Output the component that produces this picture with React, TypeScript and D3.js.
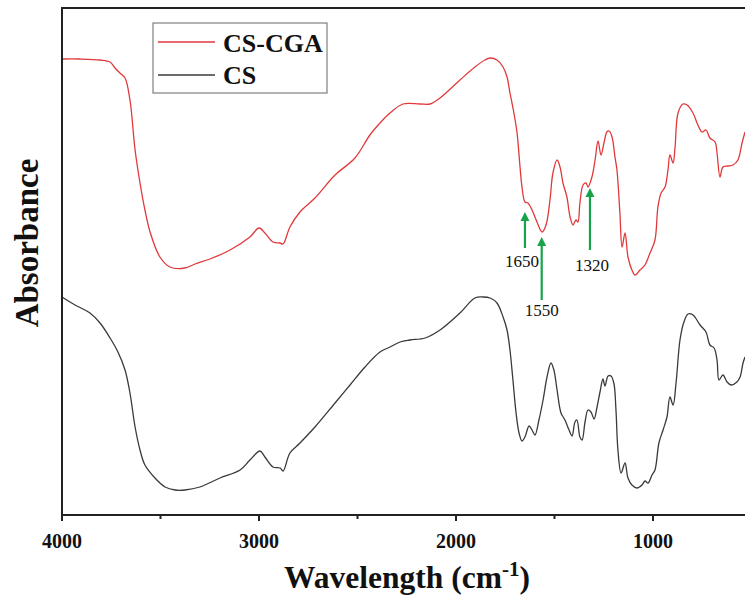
import React from "react";
import * as d3 from "d3";

// Wavenumber (cm^-1) and absorbance (a.u.)
const csCgaWave = [4000, 3909, 3807, 3756, 3731, 3706, 3680, 3655, 3629, 3604, 3579, 3553, 3503, 3452, 3376, 3325, 3249, 3147, 3046, 3000, 2970, 2929, 2893, 2878, 2843, 2792, 2716, 2614, 2513, 2437, 2386, 2335, 2269, 2183, 2132, 2081, 1980, 1904, 1853, 1827, 1792, 1761, 1741, 1726, 1706, 1690, 1675, 1665, 1650, 1635, 1614, 1589, 1563, 1543, 1523, 1508, 1487, 1472, 1457, 1437, 1421, 1406, 1391, 1381, 1371, 1355, 1340, 1330, 1310, 1294, 1279, 1264, 1249, 1234, 1223, 1208, 1193, 1183, 1168, 1157, 1142, 1127, 1107, 1091, 1066, 1041, 1015, 990, 975, 959, 939, 924, 914, 898, 888, 873, 848, 827, 797, 772, 751, 731, 711, 685, 675, 660, 645, 619, 594, 569, 548, 533];
const csCgaAbs = [4.56, 4.56, 4.55, 4.53, 4.47, 4.42, 4.37, 4.15, 3.65, 3.32, 3.05, 2.83, 2.58, 2.48, 2.47, 2.51, 2.56, 2.65, 2.78, 2.87, 2.82, 2.73, 2.72, 2.71, 2.88, 3.03, 3.17, 3.40, 3.57, 3.80, 3.92, 4.02, 4.11, 4.11, 4.11, 4.17, 4.35, 4.48, 4.55, 4.57, 4.55, 4.48, 4.38, 4.22, 4.02, 3.82, 3.48, 3.28, 3.13, 3.12, 3.05, 2.93, 2.83, 2.90, 3.15, 3.42, 3.55, 3.48, 3.32, 3.18, 2.98, 2.90, 2.95, 2.93, 3.12, 3.30, 3.32, 3.28, 3.38, 3.55, 3.74, 3.60, 3.72, 3.83, 3.84, 3.78, 3.58, 3.45, 3.02, 2.68, 2.82, 2.58, 2.45, 2.40, 2.45, 2.50, 2.62, 2.75, 3.08, 3.22, 3.28, 3.45, 3.60, 3.52, 3.68, 4.02, 4.11, 4.10, 4.02, 3.90, 3.83, 3.85, 3.77, 3.73, 3.62, 3.38, 3.48, 3.49, 3.50, 3.55, 3.72, 3.83];

const csWave = [4000, 3934, 3858, 3807, 3756, 3716, 3680, 3655, 3629, 3604, 3579, 3528, 3477, 3426, 3376, 3300, 3198, 3096, 3046, 2995, 2970, 2929, 2893, 2878, 2843, 2792, 2716, 2614, 2538, 2462, 2386, 2335, 2284, 2234, 2157, 2081, 1980, 1904, 1863, 1827, 1792, 1761, 1741, 1726, 1711, 1695, 1680, 1665, 1650, 1629, 1614, 1599, 1579, 1558, 1538, 1518, 1503, 1487, 1467, 1447, 1426, 1411, 1396, 1386, 1371, 1360, 1345, 1330, 1315, 1299, 1284, 1269, 1254, 1244, 1228, 1213, 1198, 1188, 1178, 1162, 1142, 1127, 1107, 1081, 1056, 1041, 1025, 1005, 990, 970, 949, 929, 914, 898, 883, 863, 843, 822, 797, 761, 731, 711, 690, 675, 665, 645, 624, 604, 574, 558, 543, 533];
const csAbs = [2.18, 2.10, 2.02, 1.92, 1.77, 1.63, 1.45, 1.22, 0.88, 0.65, 0.50, 0.37, 0.28, 0.25, 0.25, 0.28, 0.37, 0.45, 0.55, 0.64, 0.58, 0.48, 0.47, 0.44, 0.62, 0.72, 0.88, 1.12, 1.30, 1.48, 1.63, 1.68, 1.73, 1.75, 1.77, 1.85, 2.02, 2.17, 2.18, 2.17, 2.12, 1.98, 1.85, 1.65, 1.35, 1.02, 0.82, 0.74, 0.78, 0.89, 0.85, 0.80, 0.95, 1.15, 1.38, 1.52, 1.45, 1.25, 1.02, 0.95, 0.85, 0.79, 0.93, 0.95, 0.78, 0.75, 0.93, 1.05, 1.03, 0.96, 1.08, 1.23, 1.36, 1.29, 1.39, 1.39, 1.31, 1.05, 0.65, 0.42, 0.52, 0.37, 0.30, 0.27, 0.30, 0.34, 0.32, 0.40, 0.45, 0.72, 0.85, 0.98, 1.18, 1.10, 1.32, 1.75, 1.93, 2.01, 2.00, 1.90, 1.83, 1.70, 1.67, 1.55, 1.35, 1.40, 1.33, 1.30, 1.33, 1.38, 1.52, 1.58];

const seriesNames = ["CS-CGA", "CS"];
const seriesColors = ["#e0393b", "#3a3a3a"];

const majorTicks = [4000, 3000, 2000, 1000];
const minorTicks = [3500, 2500, 1500];

// peak annotations: arrow wavenumber, tip / tail absorbance, label, label baseline absorbance
const annoWave = [1650, 1565, 1320];
const annoTip = [3.03, 2.78, 3.27];
const annoTail = [2.67, 2.15, 2.65];
const annoLabel = ["1650", "1550", "1320"];
const annoLabelAbs = [2.48, 1.99, 2.44];
const annoLabelDx = [-3, 0, 2];

const W = 745;
const H = 603;
const left = 62;
const top = 8;
const bottom = 515;

export default function App() {
  const x = d3.scaleLinear().domain([4000, 500]).range([left, left + 3500 * 0.197]);
  const y = d3.scaleLinear().domain([0, 5.07]).range([bottom, top]);
  const line = d3
    .line<[number, number]>()
    .x((d) => x(d[0]))
    .y((d) => y(d[1]))
    .curve(d3.curveCatmullRom.alpha(0.5));

  const red = csCgaWave.map((w, i) => [w, csCgaAbs[i]] as [number, number]);
  const black = csWave.map((w, i) => [w, csAbs[i]] as [number, number]);
  const green = "#17a34a";
  const serif = "'Liberation Serif', 'Times New Roman', serif";

  return (
    <svg
      width={W}
      height={H}
      style={{ position: "absolute", left: 0, top: 0, background: "#fff" }}
      fontFamily={serif}
    >
      <defs>
        <clipPath id="plot">
          <rect x={left} y={top} width={W - left} height={bottom - top} />
        </clipPath>
      </defs>
      <g clipPath="url(#plot)">
        <path d={line(red) || ""} fill="none" stroke={seriesColors[0]} strokeWidth={1.3} />
        <path d={line(black) || ""} fill="none" stroke={seriesColors[1]} strokeWidth={1.3} />
      </g>

      {/* frame */}
      <line x1={left} x2={W} y1={top} y2={top} stroke="#222" strokeWidth={2} />
      <line x1={left} x2={left} y1={top - 1} y2={bottom + 1} stroke="#222" strokeWidth={2} />
      <line x1={left} x2={W} y1={bottom} y2={bottom} stroke="#222" strokeWidth={2} />

      {majorTicks.map((t) => (
        <g key={"M" + t}>
          <line x1={x(t)} x2={x(t)} y1={bottom} y2={bottom + 6} stroke="#222" strokeWidth={2} />
          <text x={x(t)} y={548} textAnchor="middle" fontSize={20} fontWeight="bold" fill="#111">
            {t}
          </text>
        </g>
      ))}
      {minorTicks.map((t) => (
        <line key={"m" + t} x1={x(t)} x2={x(t)} y1={bottom} y2={bottom + 4} stroke="#222" strokeWidth={2} />
      ))}

      <text x={407} y={588} textAnchor="middle" fontSize={31.5} fontWeight="bold" fill="#111">
        Wavelength (cm
        <tspan fontSize={21} dy={-12}>-1</tspan>
        <tspan dy={12}>)</tspan>
      </text>
      <text
        transform={`translate(38,243) rotate(-90)`}
        textAnchor="middle"
        fontSize={33}
        fontWeight="bold"
        fill="#111"
      >
        Absorbance
      </text>

      {/* legend */}
      <rect x={153} y={23} width={174} height={70} fill="#fff" stroke="#666" strokeWidth={1} />
      {seriesNames.map((n, i) => (
        <g key={n}>
          <line x1={158} x2={215} y1={42 + i * 33} y2={42 + i * 33} stroke={seriesColors[i]} strokeWidth={1.3} />
          <text x={223} y={52 + i * 32} fontSize={26} fontWeight="bold" fill="#111">
            {n}
          </text>
        </g>
      ))}

      {/* annotations */}
      {annoWave.map((w, i) => {
        const ax = x(w);
        const ty = y(annoTip[i]);
        return (
          <g key={"a" + i}>
            <line x1={ax} x2={ax} y1={ty + 7} y2={y(annoTail[i])} stroke={green} strokeWidth={2.2} />
            <path d={`M${ax},${ty} L${ax - 4.5},${ty + 9} L${ax + 4.5},${ty + 9} Z`} fill={green} />
            <text x={ax + annoLabelDx[i]} y={y(annoLabelAbs[i])} textAnchor="middle" fontSize={17} fill="#111">
              {annoLabel[i]}
            </text>
          </g>
        );
      })}
    </svg>
  );
}
